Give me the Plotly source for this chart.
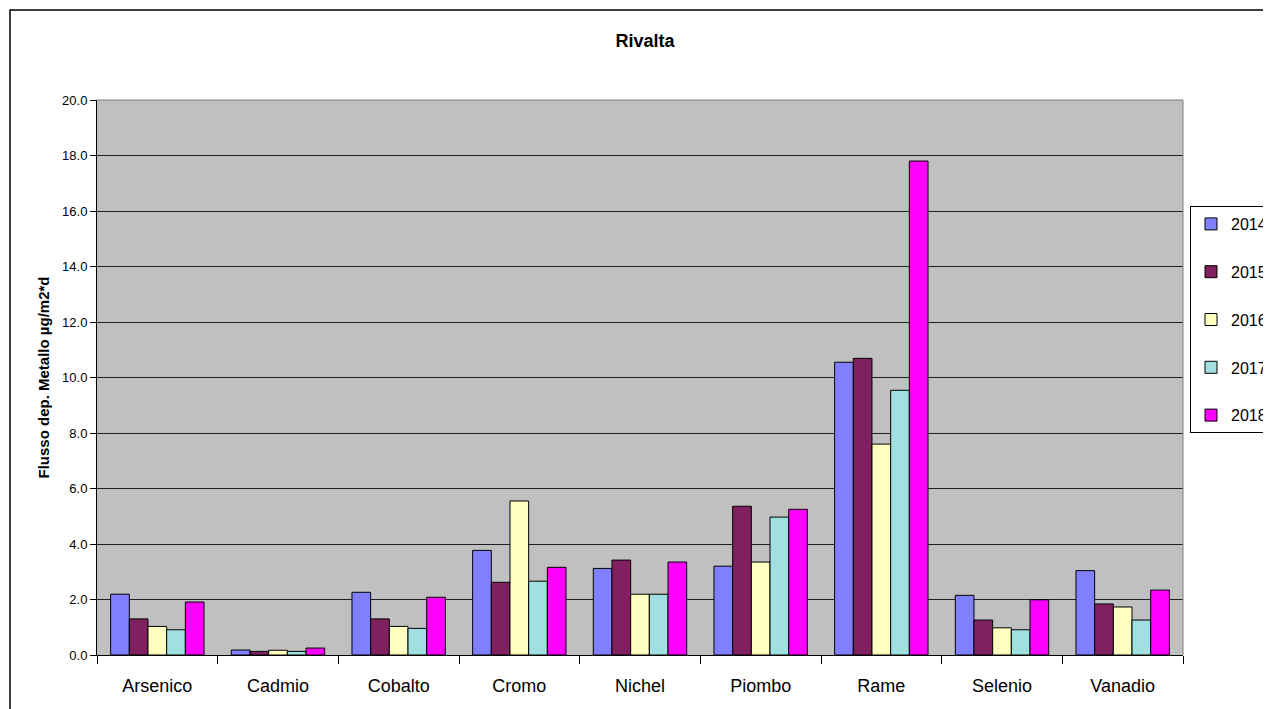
import plotly.graph_objects as go

categories = ["Arsenico", "Cadmio", "Cobalto", "Cromo", "Nichel", "Piombo", "Rame", "Selenio", "Vanadio"]
years = ["2014", "2015", "2016", "2017", "2018"]
v2014 = [2.19, 0.18, 2.26, 3.77, 3.12, 3.20, 10.55, 2.15, 3.04]
v2015 = [1.30, 0.13, 1.30, 2.62, 3.42, 5.36, 10.69, 1.26, 1.84]
v2016 = [1.03, 0.17, 1.03, 5.55, 2.19, 3.35, 7.60, 0.98, 1.73]
v2017 = [0.91, 0.13, 0.96, 2.66, 2.19, 4.97, 9.54, 0.91, 1.26]
v2018 = [1.91, 0.25, 2.08, 3.16, 3.35, 5.25, 17.80, 1.99, 2.34]
series = [v2014, v2015, v2016, v2017, v2018]
colors = ["#8080FF", "#802060", "#FFFFC0", "#A0E0E0", "#FF00FF"]

FONT = "Arial, Liberation Sans, sans-serif"

fig = go.Figure()
for yr, vals, col in zip(years, series, colors):
    fig.add_trace(go.Bar(
        x=categories, y=vals, name=yr, legendgroup=yr,
        marker=dict(color=col, line=dict(color="black", width=1)),
    ))

# page body has an 8px margin; work in figure coordinates
OFF = 8
W, H = 1271 - OFF, 709 - OFF
L, R, T, B = 97 - OFF, 1183 - OFF, 100 - OFF, 655 - OFF
pw, ph = R - L, B - T

def px(x):
    return (x - OFF - L) / pw

def py(y):
    return (B - (y - OFF)) / ph

fig.update_layout(
    width=W, height=H,
    margin=dict(l=L, r=W - R, t=T, b=H - B, autoexpand=False),
    paper_bgcolor="white", plot_bgcolor="#C0C0C0",
    barmode="group", bargap=0.226, bargroupgap=0,
    font=dict(family=FONT, color="black"),
    title=dict(text="<b>Rivalta</b>", x=px(645), xref="paper", xanchor="center",
               y=1 - (41 - OFF) / H, yanchor="middle", font=dict(size=18, family=FONT)),
    showlegend=True,
    legend=dict(x=px(1190), xanchor="left", y=py(206), yanchor="top",
                bgcolor="white", bordercolor="black", borderwidth=1,
                font=dict(size=16, family=FONT), tracegroupgap=24,
                itemwidth=30),
    xaxis=dict(showgrid=False, ticks="outside", tickson="boundaries", ticklen=8,
               tickcolor="black", showline=True, linecolor="black", linewidth=1,
               tickfont=dict(size=18, family=FONT), range=[-0.5, 8.5],
               ticklabelstandoff=14),
    yaxis=dict(range=[0, 20], dtick=2, tickformat=".1f", showgrid=True,
               gridcolor="#202020", gridwidth=1, ticks="outside", ticklen=6,
               tickcolor="black", showline=True, linecolor="black", linewidth=1,
               tickfont=dict(size=13, family=FONT), zeroline=False,
               title=dict(text="<b>Flusso dep. Metallo µg/m2*d</b>",
                          font=dict(size=15, family=FONT), standoff=8)),
)

# plot-area top/right border (gray) and outer chart border
fig.add_shape(type="line", xref="paper", yref="paper", x0=0, x1=1, y0=1, y1=1,
              line=dict(color="#808080", width=1))
fig.add_shape(type="line", xref="paper", yref="paper", x0=1, x1=1, y0=0, y1=1,
              line=dict(color="#808080", width=1))
fig.add_shape(type="rect", xref="paper", yref="paper",
              x0=px(10), x1=px(1320), y0=py(10), y1=py(760),
              line=dict(color="black", width=1.5), fillcolor="rgba(0,0,0,0)", layer="below")

fig.write_html("out.html")
